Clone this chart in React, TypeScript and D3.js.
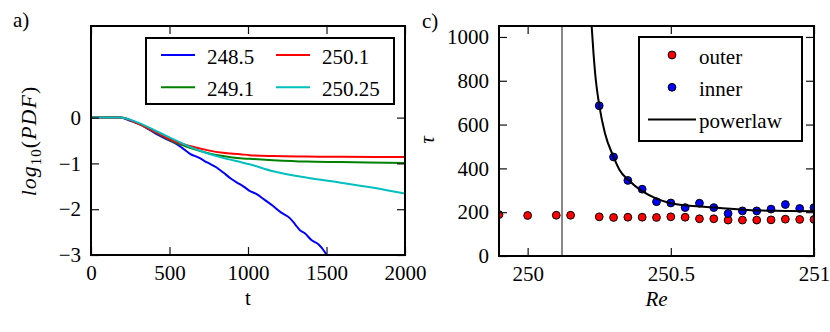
import { useEffect, useRef } from "react";
import * as d3 from "d3";

// panel a) : log10(PDF) vs t for four Re values
const seriesLabels = ["248.5", "249.1", "250.1", "250.25"];
const seriesColors = ["#0000ff", "#008000", "#ff0000", "#00bfbf"];

const pdf248_5: [number, number][] = [
  [0, 0], [60, 0], [185, 0], [250, -0.07], [312, -0.15], [360, -0.24], [418, -0.36],
  [480, -0.47], [546, -0.58], [580, -0.66], [631, -0.79], [690, -0.88], [740, -0.98],
  [800, -1.09], [843, -1.2], [890, -1.33], [930, -1.42], [970, -1.5], [1010, -1.6],
  [1055, -1.67], [1100, -1.78], [1160, -1.93], [1210, -2.07], [1268, -2.2], [1300, -2.33],
  [1331, -2.46], [1360, -2.52], [1406, -2.68], [1450, -2.77], [1490, -2.94], [1505, -3.03],
];
const pdf249_1: [number, number][] = [
  [0, 0], [185, 0], [300, -0.13], [420, -0.34], [520, -0.52], [630, -0.66], [740, -0.77],
  [840, -0.84], [950, -0.89], [1010, -0.9], [1160, -0.93], [1370, -0.96], [1590, -0.97],
  [2000, -0.99],
];
const pdf250_1: [number, number][] = [
  [0, 0], [185, 0], [300, -0.13], [420, -0.33], [520, -0.5], [630, -0.62], [740, -0.71],
  [840, -0.77], [950, -0.8], [1010, -0.82], [1160, -0.84], [1370, -0.85], [1590, -0.855],
  [2000, -0.86],
];
const pdf250_25: [number, number][] = [
  [0, 0], [185, 0], [300, -0.11], [420, -0.3], [480, -0.4], [630, -0.64], [740, -0.78],
  [840, -0.88], [950, -0.97], [1010, -1.02], [1160, -1.17], [1370, -1.31], [1590, -1.42],
  [1800, -1.53], [2000, -1.66],
];
const pdfSeries = [pdf248_5, pdf249_1, pdf250_1, pdf250_25];

const tTicks = [0, 500, 1000, 1500, 2000];
const pdfTicks = [-3, -2, -1, 0];

// panel c) : lifetime tau vs Re
const reOuter = [249.9, 250.0, 250.1, 250.15, 250.25, 250.3, 250.35, 250.4, 250.45, 250.5,
  250.55, 250.6, 250.65, 250.7, 250.75, 250.8, 250.85, 250.9, 250.95, 251.0];
const tauOuter = [189, 185, 186, 186, 179, 176, 177, 177, 176, 179,
  177, 170, 170, 164, 164, 164, 165, 168, 167, 167];
const reInner = [250.25, 250.3, 250.35, 250.4, 250.45, 250.5, 250.55, 250.6, 250.65,
  250.7, 250.75, 250.8, 250.85, 250.9, 250.95, 251.0];
const tauInner = [686, 452, 345, 305, 248, 242, 221, 241, 221, 194, 206, 206, 214, 235, 217, 221];
const powerRe = [250.222, 250.23, 250.238, 250.25, 250.27, 250.3, 250.321, 250.352, 250.4,
  250.45, 250.5, 250.6, 250.65, 250.77, 250.9, 251.0];
const powerTau = [1080, 925, 804, 689, 560, 453, 393, 347, 296, 262, 241, 226, 221, 210, 206, 204];
const reCritical = 250.12;

const reTicks = [250, 250.5, 251];
const tauTicks = [0, 200, 400, 600, 800, 1000];

const FONT = "Liberation Serif, DejaVu Serif, serif";
const FS = 21;

const minus = (v: number) => (v < 0 ? "\u2212" + Math.abs(v) : String(v));

const App = () => {
  const svgRef = useRef<SVGSVGElement>(null);

  useEffect(() => {
    const svg = d3.select(svgRef.current);
    svg.selectAll("*").remove();
    svg.style("font-family", FONT);

    const frame = (
      x: d3.ScaleLinear<number, number>,
      y: d3.ScaleLinear<number, number>,
      xt: number[],
      yt: number[],
      xf: (d: number) => string,
      yf: (d: number) => string
    ) => {
      const [x0, x1] = x.range();
      const [y0, y1] = y.range();
      const axes = [
        { ax: d3.axisBottom(x).tickValues(xt).tickFormat((d) => xf(+d)), t: `translate(0,${y0})` },
        { ax: d3.axisTop(x).tickValues(xt).tickFormat(() => ""), t: `translate(0,${y1})` },
        { ax: d3.axisLeft(y).tickValues(yt).tickFormat((d) => yf(+d)), t: `translate(${x0},0)` },
        { ax: d3.axisRight(y).tickValues(yt).tickFormat(() => ""), t: `translate(${x1},0)` },
      ];
      axes.forEach(({ ax, t }) => {
        const g = svg
          .append("g")
          .attr("transform", t)
          .call(ax.tickSizeInner(-8).tickSizeOuter(0).tickPadding(10));
        g.select(".domain").remove();
        g.selectAll(".tick line").attr("stroke", "#111").attr("stroke-width", 1.2);
        g.attr("font-family", FONT).attr("font-size", FS);
        g.selectAll(".tick text").attr("fill", "#000");
      });
      svg
        .append("rect")
        .attr("x", x0)
        .attr("y", y1)
        .attr("width", x1 - x0)
        .attr("height", y0 - y1)
        .attr("fill", "none")
        .attr("stroke", "#000")
        .attr("stroke-width", 2);
    };

    const defs = svg.append("defs");

    // ---------- panel a) ----------
    const xA = d3.scaleLinear().domain([0, 2000]).range([91, 405]);
    const yA = d3.scaleLinear().domain([-3, 2]).range([255, 26]);
    defs
      .append("clipPath")
      .attr("id", "clipA")
      .append("rect")
      .attr("x", 91)
      .attr("y", 26)
      .attr("width", 314)
      .attr("height", 229);

    const lineA = d3
      .line<[number, number]>()
      .x((d) => xA(d[0]))
      .y((d) => yA(d[1]))
      .curve(d3.curveMonotoneX);

    const plotA = svg.append("g").attr("clip-path", "url(#clipA)");
    pdfSeries.forEach((s, i) => {
      plotA
        .append("path")
        .datum(s)
        .attr("fill", "none")
        .attr("stroke", seriesColors[i])
        .attr("stroke-width", 2)
        .attr("stroke-linejoin", "round")
        .attr("d", lineA);
    });

    frame(xA, yA, tTicks, pdfTicks, (d) => String(d), minus);

    // legend a)
    const legA = svg.append("g");
    legA
      .append("rect")
      .attr("x", 146)
      .attr("y", 38)
      .attr("width", 248)
      .attr("height", 66)
      .attr("fill", "#fff")
      .attr("stroke", "#000")
      .attr("stroke-width", 2);
    seriesLabels.forEach((lab, i) => {
      const col = Math.floor(i / 2);
      const row = i % 2;
      const lx = 161 + col * 115;
      const ly = 55 + row * 32.3;
      legA
        .append("line")
        .attr("x1", lx)
        .attr("x2", lx + 34)
        .attr("y1", ly)
        .attr("y2", ly)
        .attr("stroke", seriesColors[i])
        .attr("stroke-width", 2);
      legA
        .append("text")
        .attr("x", lx + 46)
        .attr("y", ly + 8.5)
        .attr("font-family", FONT)
        .attr("font-size", FS)
        .text(lab);
    });

    // labels a)
    svg
      .append("text")
      .attr("x", 13)
      .attr("y", 27)
      .attr("font-family", FONT)
      .attr("font-size", FS)
      .text("a)");
    svg
      .append("text")
      .attr("x", xA(1000))
      .attr("y", 305)
      .attr("text-anchor", "middle")
      .attr("font-family", FONT)
      .attr("font-size", FS)
      .text("t");
    const yl = svg
      .append("text")
      .attr("transform", "translate(36,141) rotate(-90)")
      .attr("text-anchor", "middle")
      .attr("font-family", FONT)
      .attr("font-size", 22)
      .attr("letter-spacing", 1);
    yl.append("tspan").attr("font-style", "italic").text("log");
    yl.append("tspan").attr("font-size", 15).attr("dy", 5).text("10");
    yl.append("tspan").attr("dy", -5).text("(");
    yl.append("tspan").attr("font-style", "italic").text("PDF");
    yl.append("tspan").text(")");

    // ---------- panel c) ----------
    const xC = d3.scaleLinear().domain([249.9, 251]).range([499, 814]);
    const yC = d3.scaleLinear().domain([0, 1050]).range([256, 26]);
    defs
      .append("clipPath")
      .attr("id", "clipC")
      .append("rect")
      .attr("x", 499)
      .attr("y", 26)
      .attr("width", 315)
      .attr("height", 230);

    const plotC = svg.append("g").attr("clip-path", "url(#clipC)");
    plotC
      .append("line")
      .attr("x1", xC(reCritical))
      .attr("x2", xC(reCritical))
      .attr("y1", yC(0))
      .attr("y2", yC(1050))
      .attr("stroke", "#888")
      .attr("stroke-width", 2);

    plotC
      .selectAll("circle.outer")
      .data(reOuter)
      .join("circle")
      .attr("class", "outer")
      .attr("cx", (d) => xC(d))
      .attr("cy", (_, i) => yC(tauOuter[i]))
      .attr("r", 3.9)
      .attr("fill", "#ff0000")
      .attr("stroke", "#000")
      .attr("stroke-width", 1);
    plotC
      .selectAll("circle.inner")
      .data(reInner)
      .join("circle")
      .attr("class", "inner")
      .attr("cx", (d) => xC(d))
      .attr("cy", (_, i) => yC(tauInner[i]))
      .attr("r", 3.9)
      .attr("fill", "#0000ff")
      .attr("stroke", "#000")
      .attr("stroke-width", 1);

    const powerPts = powerRe.map((r, i) => [r, powerTau[i]] as [number, number]);
    plotC
      .append("path")
      .datum(powerPts)
      .attr("fill", "none")
      .attr("stroke", "#000")
      .attr("stroke-width", 2)
      .attr(
        "d",
        d3
          .line<[number, number]>()
          .x((d) => xC(d[0]))
          .y((d) => yC(d[1]))
          .curve(d3.curveMonotoneX)
      );

    frame(xC, yC, reTicks, tauTicks, (d) => String(d), (d) => String(d));

    // legend c)
    const legC = svg.append("g");
    legC
      .append("rect")
      .attr("x", 639)
      .attr("y", 37)
      .attr("width", 163)
      .attr("height", 104)
      .attr("fill", "#fff")
      .attr("stroke", "#000")
      .attr("stroke-width", 2);
    [
      { lab: "outer", color: "#ff0000", y: 55 },
      { lab: "inner", color: "#0000ff", y: 87.3 },
    ].forEach((e) => {
      legC
        .append("circle")
        .attr("cx", 672)
        .attr("cy", e.y)
        .attr("r", 3.9)
        .attr("fill", e.color)
        .attr("stroke", "#000")
        .attr("stroke-width", 1);
      legC
        .append("text")
        .attr("x", 699)
        .attr("y", e.y + 8.5)
        .attr("font-family", FONT)
        .attr("font-size", FS)
        .text(e.lab);
    });
    legC
      .append("line")
      .attr("x1", 648)
      .attr("x2", 696)
      .attr("y1", 119.5)
      .attr("y2", 119.5)
      .attr("stroke", "#000")
      .attr("stroke-width", 2);
    legC
      .append("text")
      .attr("x", 699)
      .attr("y", 127.5)
      .attr("font-family", FONT)
      .attr("font-size", FS)
      .text("powerlaw");

    svg
      .append("text")
      .attr("x", 422)
      .attr("y", 28)
      .attr("font-family", FONT)
      .attr("font-size", FS)
      .text("c)");
    svg
      .append("text")
      .attr("x", (xC(249.9) + xC(251)) / 2)
      .attr("y", 306)
      .attr("text-anchor", "middle")
      .attr("font-family", FONT)
      .attr("font-size", FS)
      .attr("font-style", "italic")
      .text("Re");
    svg
      .append("text")
      .attr("transform", "translate(434,140) rotate(-90)")
      .attr("text-anchor", "middle")
      .attr("font-family", FONT)
      .attr("font-size", FS)
      .attr("font-style", "italic")
      .text("\u03c4");
  }, []);

  return (
    <svg
      ref={svgRef}
      width={830}
      height={332}
      style={{ position: "absolute", left: 0, top: 0, background: "#fff" }}
    ></svg>
  );
};

export default App;
